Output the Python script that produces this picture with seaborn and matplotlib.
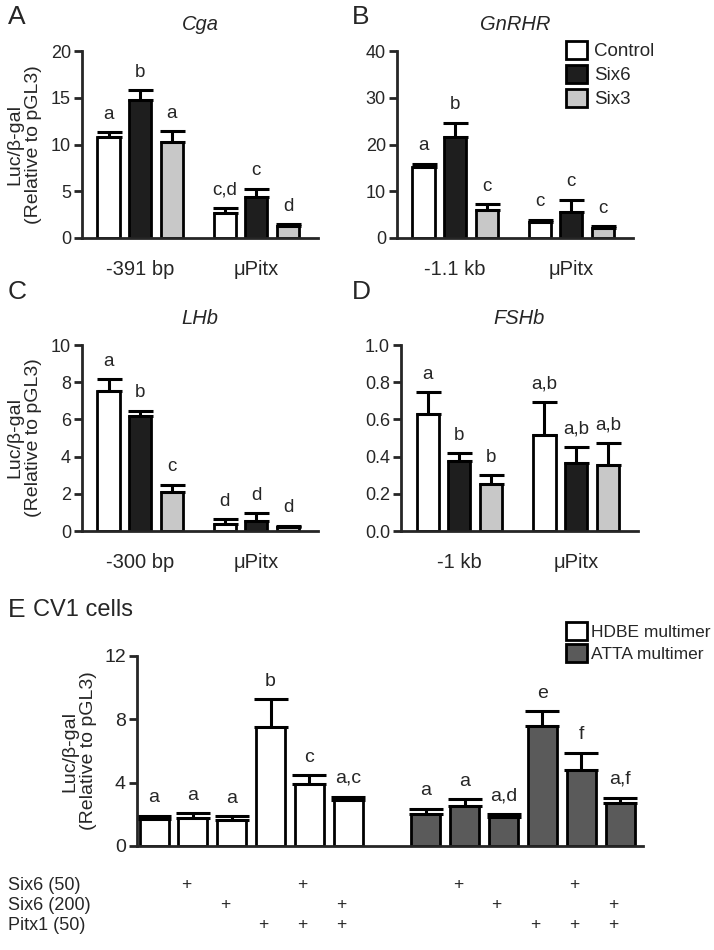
import seaborn as sns
import matplotlib.pyplot as plt
import pandas as pd
from matplotlib.patches import Patch
from matplotlib.transforms import blended_transform_factory

# --- data ---
treatments = ['Control', 'Six6', 'Six3']
treat_colors = ['white', '#1e1e1e', '#c8c8c8']

cga_groups = ['-391 bp', 'μPitx']
cga_mean = [[10.8, 14.8, 10.3], [2.7, 4.4, 1.3]]
cga_err = [[0.5, 1.0, 1.1], [0.5, 0.85, 0.17]]
cga_letters = [['a', 'b', 'a'], ['c,d', 'c', 'd']]

gnrhr_groups = ['-1.1 kb', 'μPitx']
gnrhr_mean = [[15.1, 21.7, 5.95], [3.45, 5.6, 2.1]]
gnrhr_err = [[0.7, 3.0, 1.25], [0.5, 2.5, 0.4]]
gnrhr_letters = [['a', 'b', 'c'], ['c', 'c', 'c']]

lhb_groups = ['-300 bp', 'μPitx']
lhb_mean = [[7.54, 6.18, 2.08], [0.39, 0.54, 0.2]]
lhb_err = [[0.61, 0.27, 0.41], [0.24, 0.41, 0.09]]
lhb_letters = [['a', 'b', 'c'], ['d', 'd', 'd']]

fshb_groups = ['-1 kb', 'μPitx']
fshb_mean = [[0.627, 0.378, 0.253], [0.514, 0.364, 0.357]]
fshb_err = [[0.118, 0.04, 0.046], [0.178, 0.088, 0.114]]
fshb_letters = [['a', 'b', 'b'], ['a,b', 'a,b', 'a,b']]

cv1_constructs = ['HDBE multimer', 'ATTA multimer']
cv1_colors = ['white', '#5a5a5a']
cv1_pos = [0, 1, 2, 3, 4, 5, 7, 8, 9, 10, 11, 12]
cv1_mean = [1.68, 1.77, 1.62, 7.52, 3.94, 2.88,
            2.04, 2.55, 1.83, 7.58, 4.78, 2.74]
cv1_err = [0.21, 0.29, 0.25, 1.74, 0.52, 0.24,
           0.32, 0.4, 0.17, 0.92, 1.12, 0.31]
cv1_letters = ['a', 'a', 'a', 'b', 'c', 'a,c',
               'a', 'a', 'a,d', 'e', 'f', 'a,f']
cv1_group = [0] * 6 + [1] * 6

row_labels = ['Six6 (50)', 'Six6 (200)', 'Pitx1 (50)']
six6_50 = [0, 1, 0, 0, 1, 0]
six6_200 = [0, 0, 1, 0, 0, 1]
pitx1_50 = [0, 0, 0, 1, 1, 1]

sns.set_style('ticks')
plt.rcParams['font.family'] = ['Liberation Sans', 'DejaVu Sans']
plt.rcParams['axes.linewidth'] = 2

W, H = 714, 950
fig = plt.figure(figsize=(W / 100, H / 100), dpi=100)


def add_ax(left, right, top, bottom):
    return fig.add_axes([left / W, 1 - bottom / H, (right - left) / W, (bottom - top) / H])


def style_ax(ax, ticks, fmt=None):
    sns.despine(ax=ax)
    ax.set_ylim(ticks[0], ticks[-1])
    ax.set_yticks(ticks)
    if fmt:
        ax.set_yticklabels([fmt.format(t) for t in ticks])
    ax.tick_params(axis='y', length=6, width=2, labelsize=13, pad=2)
    ax.set_xlabel('')
    ax.set_ylabel('')


def panel(ax, title, groups, mean, err, letters, ticks, fmt=None):
    rows = []
    for gi, g in enumerate(groups):
        for ti, t in enumerate(treatments):
            rows.append({'group': g, 'treatment': t, 'value': mean[gi][ti]})
    df = pd.DataFrame(rows)
    sns.barplot(data=df, x='group', y='value', hue='treatment', order=groups,
                hue_order=treatments, palette=treat_colors, saturation=1,
                width=0.815, gap=0.3, edgecolor='black', linewidth=2,
                errorbar=None, legend=False, ax=ax)
    bar_conts = list(ax.containers)
    for ti, cont in enumerate(bar_conts):
        for gi, bar in enumerate(cont):
            x = bar.get_x() + bar.get_width() / 2
            y = bar.get_height()
            e = err[gi][ti]
            ax.errorbar(x, y, yerr=[[0], [e]], fmt='none', ecolor='black',
                        elinewidth=2.2, capsize=9, capthick=2.2, zorder=1)
            ax.annotate(letters[gi][ti], (x, y + e), xytext=(0, 7),
                        textcoords='offset points', ha='center', va='bottom',
                        fontsize=13.5, annotation_clip=False)
    style_ax(ax, ticks, fmt)
    ax.set_xlim(-0.5, 1.53)
    ax.tick_params(axis='x', length=0, labelsize=14.5, pad=16)
    ax.set_title(title, fontsize=14.5, style='italic', pad=15)


ax_a = add_ax(82, 318, 51, 238)
panel(ax_a, 'Cga', cga_groups, cga_mean, cga_err, cga_letters, [0, 5, 10, 15, 20])
ax_b = add_ax(397, 633, 51, 238)
panel(ax_b, 'GnRHR', gnrhr_groups, gnrhr_mean, gnrhr_err, gnrhr_letters, [0, 10, 20, 30, 40])
ax_c = add_ax(82, 318, 345, 531)
panel(ax_c, 'LHb', lhb_groups, lhb_mean, lhb_err, lhb_letters, [0, 2, 4, 6, 8, 10])
ax_d = add_ax(401, 638, 345, 531)
panel(ax_d, 'FSHb', fshb_groups, fshb_mean, fshb_err, fshb_letters,
      [0.0, 0.2, 0.4, 0.6, 0.8, 1.0], fmt='{:.1f}')

ylab = 'Luc/β-gal\n(Relative to pGL3)'
for ax in (ax_a, ax_c):
    ax.set_ylabel(ylab, fontsize=14, linespacing=1.1)
    ax.yaxis.set_label_coords(-0.17, 0.5)

fig.legend([Patch(facecolor=c, edgecolor='black', linewidth=2) for c in treat_colors],
           treatments, loc='upper left', bbox_to_anchor=(566 / W, 1 - 41 / H),
           frameon=False, fontsize=13.5, handlelength=1.1, handleheight=1.1,
           handletextpad=0.4, labelspacing=0.25, borderpad=0, borderaxespad=0)

# --- panel E ---
ax_e = add_ax(137, 643, 656, 846)
df_e = pd.DataFrame({'pos': cv1_pos, 'value': cv1_mean,
                     'construct': [cv1_constructs[g] for g in cv1_group]})
sns.barplot(data=df_e, x='pos', y='value', hue='construct', hue_order=cv1_constructs,
            palette=cv1_colors, saturation=1, native_scale=True, dodge=False,
            width=0.75, edgecolor='black', linewidth=2, errorbar=None,
            legend=False, ax=ax_e)
lookup = {p: (m, e, l) for p, m, e, l in zip(cv1_pos, cv1_mean, cv1_err, cv1_letters)}
for cont in list(ax_e.containers):
    for bar in cont:
        x = bar.get_x() + bar.get_width() / 2
        y = bar.get_height()
        _, e, lab = lookup[int(round(x))]
        ax_e.errorbar(x, y, yerr=[[0], [e]], fmt='none', ecolor='black',
                      elinewidth=2.2, capsize=12, capthick=2.2, zorder=1)
        ax_e.annotate(lab, (x, y + e), xytext=(0, 7), textcoords='offset points',
                      ha='center', va='bottom', fontsize=14, annotation_clip=False)
style_ax(ax_e, [0, 4, 8, 12])
ax_e.tick_params(axis='y', labelsize=14)
ax_e.set_xlim(-0.44, 12.59)
ax_e.set_xticks([])
ax_e.set_ylabel(ylab, fontsize=14, linespacing=1.1)
ax_e.yaxis.set_label_coords(-0.079, 0.5)

fig.legend([Patch(facecolor=c, edgecolor='black', linewidth=2) for c in cv1_colors],
           cv1_constructs, loc='upper left', bbox_to_anchor=(566 / W, 1 - 622 / H),
           frameon=False, fontsize=12.5, handlelength=1.2, handleheight=1.2,
           handletextpad=0.25, labelspacing=0.25, borderpad=0, borderaxespad=0)

# +/- table under panel E
trans = blended_transform_factory(ax_e.transData, fig.transFigure)
row_y = [885, 905, 925]
for flags, label, yy in zip([six6_50, six6_200, pitx1_50], row_labels, row_y):
    fig.text(8 / W, 1 - yy / H, label, fontsize=13, va='center', ha='left')
    for p, g in zip(cv1_pos, cv1_group):
        if flags[p - 7 * g]:
            ax_e.text(p - 0.18, 1 - yy / H, '+', transform=trans, fontsize=12.5,
                      ha='center', va='center', clip_on=False)

# panel letters and headings
for lab, x, y in [('A', 8, 17), ('B', 352, 17), ('C', 8, 292), ('D', 352, 292), ('E', 8, 610)]:
    fig.text(x / W, 1 - y / H, lab, fontsize=19, va='center', ha='left')
fig.text(33 / W, 1 - 610 / H, 'CV1 cells', fontsize=17, va='center', ha='left')

fig.savefig('out.png', dpi=100)
